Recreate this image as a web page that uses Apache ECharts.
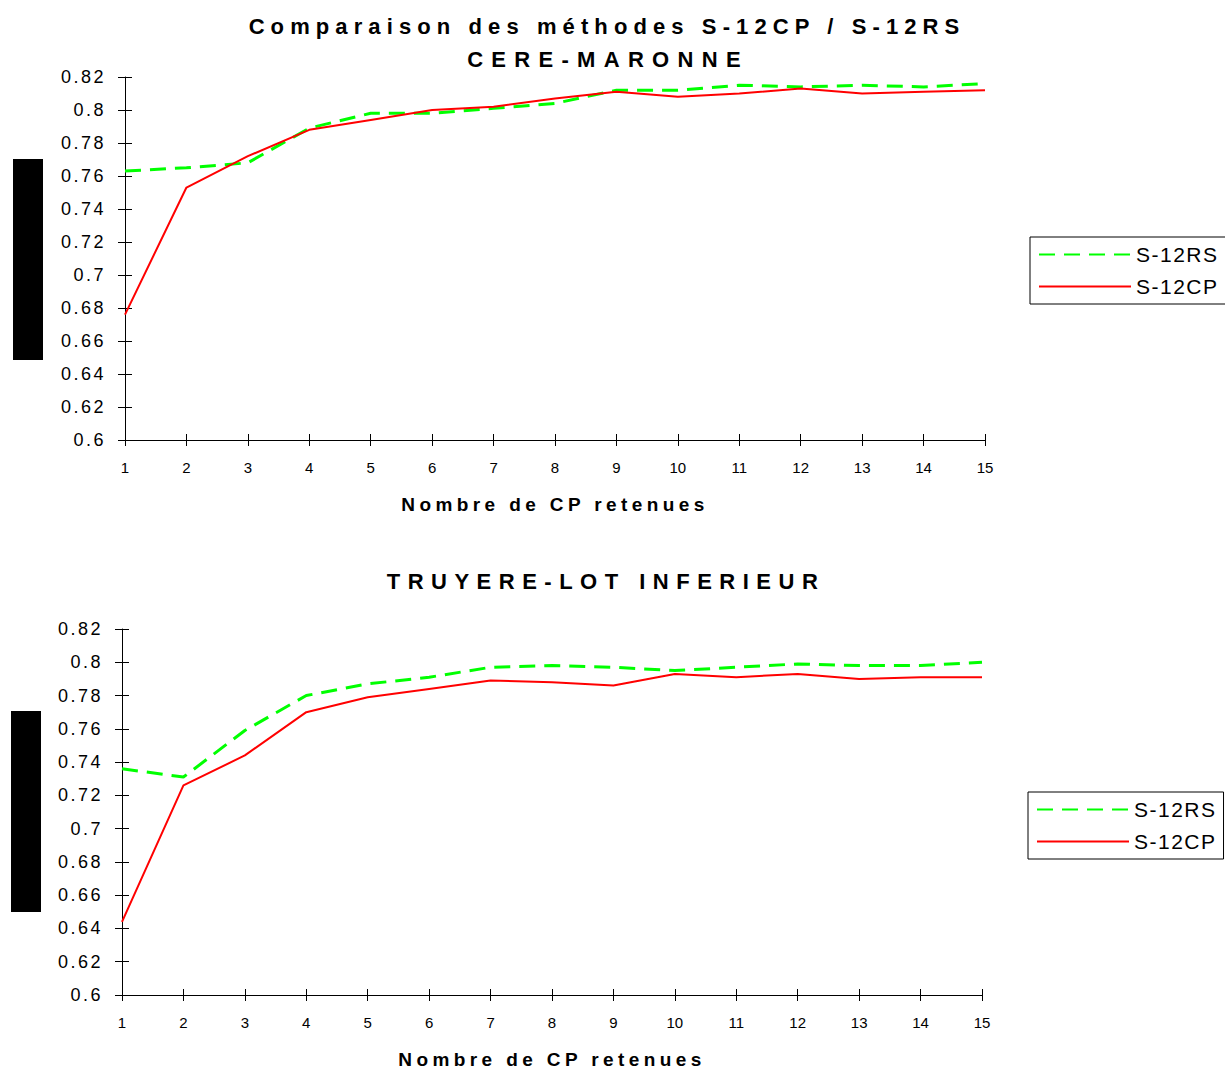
<!DOCTYPE html>
<html><head><meta charset="utf-8">
<script src="https://cdn.jsdelivr.net/npm/echarts@6/dist/echarts.min.js"></script>
<style>html,body{margin:0;padding:0;background:#fff}#c{width:1225px;height:1070px}</style>
</head><body><div id="c"></div>
<script>
// ---- data ----
const categories = ['1','2','3','4','5','6','7','8','9','10','11','12','13','14','15'];
const seriesNames = ['S-12RS', 'S-12CP'];
const cereRS = [0.763,0.765,0.768,0.789,0.798,0.798,0.801,0.804,0.812,0.812,0.815,0.814,0.815,0.814,0.816];
const cereCP = [0.676,0.753,0.772,0.788,0.794,0.800,0.802,0.807,0.811,0.808,0.810,0.813,0.810,0.811,0.812];
const truyRS = [0.736,0.731,0.759,0.780,0.787,0.791,0.797,0.798,0.797,0.795,0.797,0.799,0.798,0.798,0.800];
const truyCP = [0.644,0.726,0.744,0.770,0.779,0.784,0.789,0.788,0.786,0.793,0.791,0.793,0.790,0.791,0.791];
const yMin = 0.6, yMax = 0.82, yStep = 0.02;
const mainTitle = 'Comparaison des méthodes S-12CP / S-12RS';
const topTitle = 'CERE-MARONNE';
const bottomTitle = 'TRUYERE-LOT INFERIEUR';
const xName = 'Nombre de CP retenues';

const FONT = "'Liberation Sans', Arial, sans-serif";
const chart = echarts.init(document.getElementById('c'), null, {renderer: 'svg'});

function xAxes(gridIndex, withName) {
  return [
    {
      gridIndex, type: 'category', data: categories, boundaryGap: false, position: 'bottom',
      axisLine: {lineStyle: {color: '#000', width: 1}},
      axisTick: {show: true, inside: false, length: 6, interval: 0, lineStyle: {color: '#000'}},
      axisLabel: {interval: 0, margin: 20, fontSize: 15, color: '#000', fontFamily: FONT},
      splitLine: {show: false},
      name: withName, nameLocation: 'middle', nameGap: 55,
      nameTextStyle: {fontSize: 19, fontWeight: 'bold', color: '#000', fontFamily: FONT}
    },
    {
      gridIndex, type: 'category', data: categories, boundaryGap: false, position: 'bottom',
      axisLine: {show: false},
      axisTick: {show: true, inside: true, length: 6, interval: 0, lineStyle: {color: '#000'}},
      axisLabel: {show: false}, splitLine: {show: false}
    }
  ];
}
function yAxes(gridIndex) {
  return [
    {
      gridIndex, type: 'value', min: yMin, max: yMax, interval: yStep, position: 'left',
      axisLine: {show: true, lineStyle: {color: '#000', width: 1}},
      axisTick: {show: true, inside: false, length: 7, lineStyle: {color: '#000'}},
      axisLabel: {margin: 19, fontSize: 18, color: '#000', fontFamily: FONT},
      splitLine: {show: false}
    },
    {
      gridIndex, type: 'value', min: yMin, max: yMax, interval: yStep, position: 'left',
      axisLine: {show: false},
      axisTick: {show: true, inside: true, length: 7, lineStyle: {color: '#000'}},
      axisLabel: {show: false}, splitLine: {show: false}
    }
  ];
}
function lineSeries(name, data, axisIdx, green) {
  return {
    name, type: 'line', data, xAxisIndex: axisIdx, yAxisIndex: axisIdx,
    symbol: 'none', smooth: false, animation: false,
    lineStyle: green ? {color: '#00ff00', width: 3, type: [16, 9]} : {color: '#ff0000', width: 2, type: 'solid'},
    itemStyle: {color: green ? '#00ff00' : '#ff0000'},
    emphasis: {disabled: true}
  };
}
function legendAt(left, top) {
  return {
    data: seriesNames, orient: 'vertical', left, top, padding: [7, 16, 7, 8],
    itemWidth: 92, itemHeight: 14, itemGap: 11, borderColor: '#000', borderWidth: 1,
    backgroundColor: '#fff', selectedMode: false,
    itemStyle: {opacity: 0},
    textStyle: {fontSize: 21, color: '#000', fontFamily: FONT}
  };
}
const titleStyle = {fontSize: 22, fontWeight: 'bold', color: '#000', fontFamily: FONT};

chart.setOption({
  animation: false,
  backgroundColor: '#fff',
  title: [
    {text: mainTitle, left: 607, top: 15, textAlign: 'center', padding: 0, textStyle: titleStyle},
    {text: topTitle, left: 608, top: 48, textAlign: 'center', padding: 0, textStyle: titleStyle},
    {text: bottomTitle, left: 606, top: 570, textAlign: 'center', padding: 0, textStyle: titleStyle}
  ],
  grid: [
    {left: 125, top: 77, width: 860, height: 363, containLabel: false},
    {left: 122, top: 629, width: 860, height: 366, containLabel: false}
  ],
  xAxis: [...xAxes(0, xName), ...xAxes(1, xName)],
  yAxis: [...yAxes(0), ...yAxes(1)],
  legend: [legendAt(1030, 237), legendAt(1028, 792)],
  graphic: [
    {type: 'rect', shape: {x: 13, y: 159, width: 30, height: 201}, style: {fill: '#000'}},
    {type: 'rect', shape: {x: 11, y: 711, width: 30, height: 201}, style: {fill: '#000'}}
  ],
  series: [
    lineSeries('S-12RS', cereRS, 0, true),
    lineSeries('S-12CP', cereCP, 0, false),
    lineSeries('S-12RS', truyRS, 2, true),
    lineSeries('S-12CP', truyCP, 2, false)
  ]
});

const spacing = {};
spacing[mainTitle] = 6.1;
spacing[topTitle] = 8.3;
spacing[bottomTitle] = 7.5;
spacing[xName] = 4.4;
spacing['S-12RS'] = 1.5;
spacing['S-12CP'] = 1.5;
function applySpacing() {
  document.querySelectorAll('#c svg text').forEach(t => {
    const s = t.textContent;
    if (spacing[s] != null) t.style.letterSpacing = spacing[s] + 'px';
    else if (/^0(\.\d+)?$/.test(s)) t.style.letterSpacing = '2.5px';
  });
}
applySpacing();
chart.on('finished', applySpacing);
setTimeout(applySpacing, 50);
</script>
</body></html>
